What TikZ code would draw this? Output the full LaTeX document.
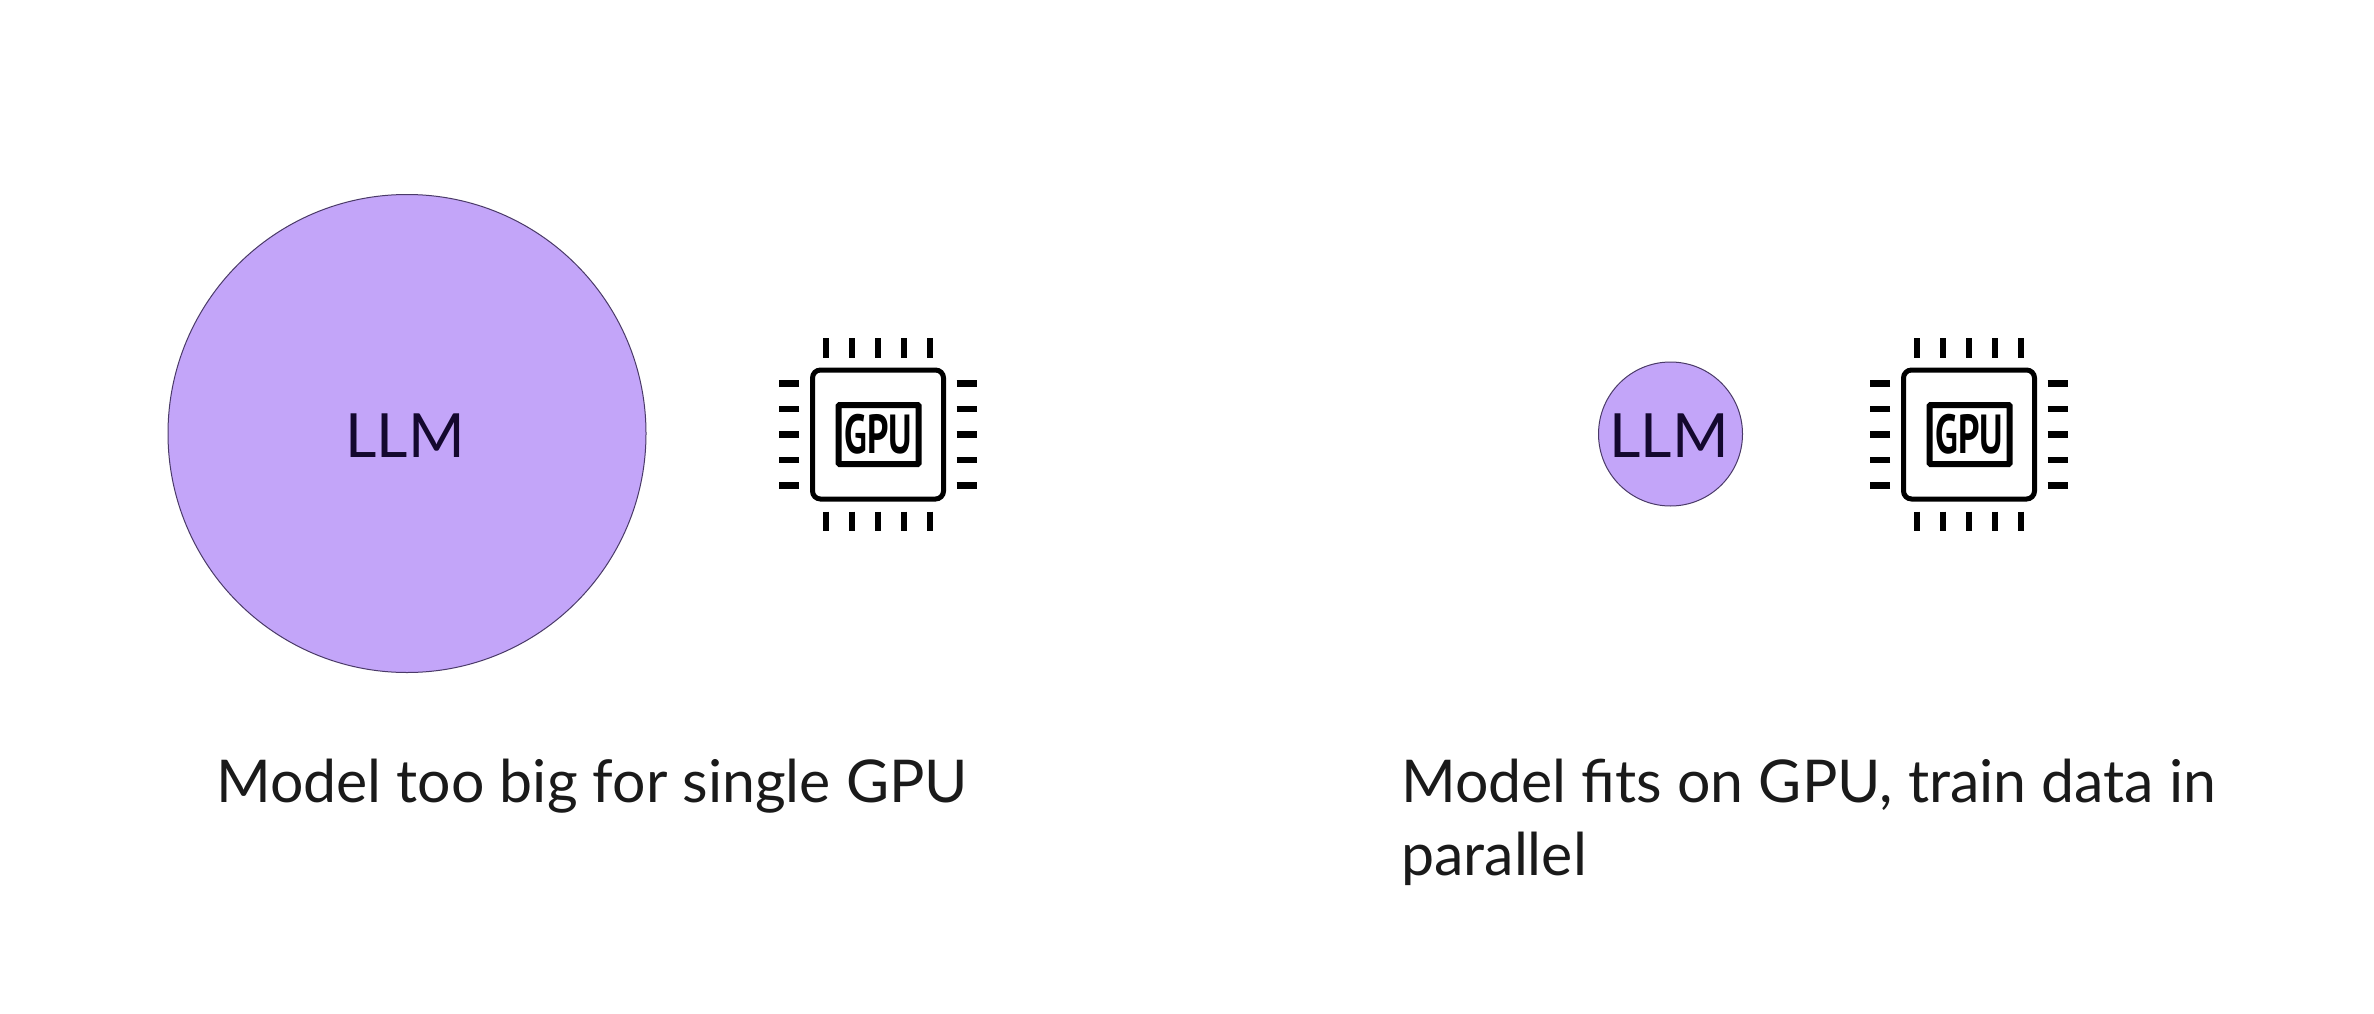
\documentclass[tikz,border=0pt]{standalone}
\usepackage{fontspec}
\setmainfont{Lato}
\newfontfamily\gpufont{PT Sans}[FakeStretch=0.68,BoldFont={PT Sans Bold}]
\definecolor{llmfill}{HTML}{C3A5F9}
\definecolor{llmedge}{HTML}{4A3A68}
\definecolor{llmtext}{HTML}{14082E}
\definecolor{captiontext}{HTML}{1A1A1A}
\tikzset{
  llmcircle/.style={circle,draw=llmedge,line width=1pt,fill=llmfill,inner sep=0pt,text=llmtext,font=\fontsize{61}{72}\selectfont},
  caption/.style={anchor=base west,inner sep=0pt,text=captiontext,font=\fontsize{59}{72.5}\selectfont,align=left},
  chipbox/.style={draw=black,line width=5pt,rounded corners=8pt},
  chiptick/.style={draw=black,line width=6.4pt},
  pics/gpuicon/.style={code={
    \draw[chipbox] (-65.5,-64.5) rectangle (65.5,64.5);
    \draw[chipbox,line width=6pt,rounded corners=1pt] (-39.5,-29.5) rectangle (40.5,29.5);
    \node[inner sep=0pt,anchor=center] at (0.5,0) {\gpufont\bfseries\fontsize{55}{55}\selectfont GPU};
    \foreach \d in {-52,-26,0,26,52}{
      \draw[chiptick] (\d,77) -- (\d,96.5);
      \draw[chiptick] (\d,-77) -- (\d,-96.5);
      \draw[chiptick] (-79,\d*0.98) -- (-99,\d*0.98);
      \draw[chiptick] (78.5,\d*0.98) -- (98.5,\d*0.98);
    }
  }}
}
\begin{document}
\begin{tikzpicture}[x=1pt,y=-1pt]
\useasboundingbox (0,0) rectangle (2374,1014);
\fill[white] (0,0) rectangle (2374,1014);
\node[llmcircle,minimum size=478pt] (bigllm) at (407,433.5) {};
\node[llmcircle,minimum size=144pt] (smallllm) at (1670.5,434) {};
\node[anchor=center,inner sep=0pt,text=llmtext,font=\fontsize{61}{72}\selectfont] (biglabel) at (405,435.5) {LLM};
\node[anchor=center,inner sep=0pt,text=llmtext,font=\fontsize{61}{72}\selectfont] (smalllabel) at (1669,435.5) {LLM};
\pic[yscale=-1] (gpua) at (878,434.5) {gpuicon};
\pic[yscale=-1] (gpub) at (1969,434.5) {gpuicon};
\node[caption] (capa) at (216,802) {Model too big for single GPU};
\node[caption] (capb) at (1401,875) {Model fits on GPU, train data in\\parallel};
\end{tikzpicture}
\end{document}
